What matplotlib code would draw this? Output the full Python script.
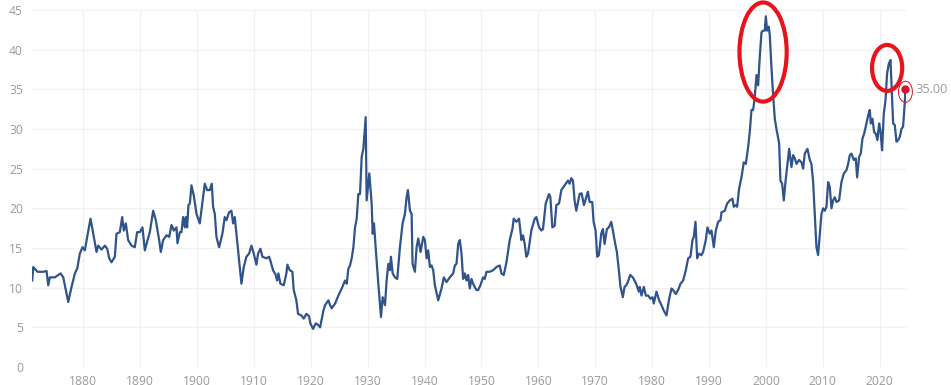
import matplotlib
matplotlib.use("Agg")
import matplotlib.pyplot as plt
from matplotlib.patches import Ellipse

years = [1871.04, 1871.22, 1871.98, 1872.97, 1873.56, 1873.85, 1874.15, 1875.02, 1876.02, 1876.49,
         1877.37, 1877.95, 1878.54, 1878.95, 1879.41, 1879.88, 1880.29, 1880.70, 1881.29, 1881.76,
         1882.34, 1882.63, 1883.22, 1883.81, 1884.22, 1884.57, 1884.98, 1885.56, 1885.85, 1886.44,
         1886.85, 1887.14, 1887.49, 1887.90, 1888.49, 1889.07, 1889.48, 1889.95, 1890.42, 1890.83,
         1891.24, 1891.71, 1892.30, 1892.76, 1893.35, 1893.64, 1894.05, 1894.64, 1895.11, 1895.52,
         1895.93, 1896.39, 1896.57, 1896.98, 1897.27, 1897.56, 1897.86, 1898.03, 1898.27, 1898.50,
         1898.74, 1899.03, 1899.44, 1899.91, 1900.49, 1900.96, 1901.37, 1901.78, 1902.25, 1902.60,
         1902.83, 1903.13, 1903.42, 1903.89, 1904.47, 1904.88, 1905.18, 1905.64, 1906.05, 1906.35,
         1906.64, 1907.05, 1907.40, 1907.81, 1908.22, 1908.69, 1909.16, 1909.57, 1909.98, 1910.44,
         1910.74, 1911.15, 1911.50, 1912.20, 1912.67, 1912.90, 1913.37, 1913.84, 1914.08, 1914.31,
         1914.66, 1915.25, 1915.71, 1915.89, 1916.30, 1916.77, 1917.00, 1917.47, 1917.76, 1918.35,
         1918.76, 1919.23, 1919.70, 1919.93, 1920.40, 1920.87, 1921.28,
         1921.64, 1922.22, 1922.51, 1923.10, 1923.39, 1923.68, 1924.27, 1924.85, 1925.44, 1926.02,
         1926.32, 1926.61, 1926.90, 1927.19, 1927.49, 1927.78, 1928.07, 1928.36, 1928.65, 1928.95,
         1929.24, 1929.65, 1929.82, 1930.29, 1930.70, 1930.88, 1931.11, 1931.40, 1931.87, 1932.34,
         1932.63, 1933.04, 1933.33, 1933.63, 1933.92, 1934.09, 1934.39, 1934.80, 1935.20, 1935.67,
         1936.14, 1936.55, 1936.84, 1937.08, 1937.43, 1937.72, 1937.89, 1938.30, 1938.60, 1938.89,
         1939.30, 1939.77, 1940.06, 1940.35, 1940.64, 1940.94, 1941.23, 1941.52, 1941.81, 1942.40,
         1942.98, 1943.39, 1943.86, 1944.44, 1945.03, 1945.32, 1945.61, 1945.91, 1946.20, 1946.49,
         1946.78, 1947.08, 1947.37, 1947.66, 1947.95, 1948.25, 1948.65, 1949.12, 1949.42, 1949.82,
         1950.29, 1950.58, 1950.88, 1951.46, 1952.05, 1952.63, 1953.22, 1953.51, 1953.92, 1954.39,
         1954.97, 1955.44, 1955.67, 1956.14, 1956.61, 1957.02, 1957.31, 1957.60, 1957.89, 1958.19,
         1958.77, 1959.36, 1959.65, 1960.12, 1960.53, 1960.82, 1961.29, 1961.87, 1962.11, 1962.46,
         1962.87, 1963.16, 1963.63, 1964.04, 1964.62, 1965.20, 1965.50, 1965.79, 1966.08, 1966.37,
         1966.67, 1967.25, 1967.60, 1968.01, 1968.42, 1968.71, 1969.01, 1969.47, 1969.71, 1970.06,
         1970.35, 1970.64, 1971.05, 1971.35, 1971.64, 1972.05, 1972.40, 1972.81, 1973.10, 1973.39,
         1973.80, 1974.15, 1974.44, 1974.85, 1975.15, 1975.44, 1975.73, 1976.14, 1976.61, 1977.19,
         1977.66,
         1977.83, 1978.13, 1978.54, 1978.89, 1979.30, 1979.71, 1980.06, 1980.29, 1980.76, 1981.23,
         1981.64, 1982.05, 1982.52, 1982.99, 1983.40, 1983.69, 1984.16, 1984.57, 1984.98, 1985.45,
         1985.92, 1986.33, 1986.74, 1987.09, 1987.32, 1987.62, 1987.91, 1988.26, 1988.67, 1988.96,
         1989.43, 1989.72, 1990.13, 1990.43, 1990.84, 1991.19, 1991.60, 1992.01, 1992.19, 1992.77,
         1993.18, 1993.65, 1994.12, 1994.35, 1994.70, 1994.94, 1995.29, 1995.70, 1996.11, 1996.46,
         1996.87, 1997.16, 1997.46, 1997.75, 1998.04, 1998.34, 1998.63, 1998.92, 1999.22, 1999.51,
         1999.80, 1999.98, 2000.21, 2000.50, 2000.68, 2000.97, 2001.27, 2001.56, 2001.85, 2002.32,
         2002.55, 2002.85, 2003.14, 2003.43, 2003.73, 2004.08, 2004.49, 2004.78, 2005.07, 2005.37,
         2005.83, 2006.25, 2006.54, 2006.83, 2007.30, 2007.71, 2008.00, 2008.30, 2008.59, 2008.88,
         2009.17, 2009.47, 2009.76, 2010.05, 2010.35, 2010.64, 2010.93, 2011.22, 2011.52, 2011.81,
         2012.10, 2012.40, 2012.86, 2013.27, 2013.69, 2014.15, 2014.45, 2014.74, 2015.03, 2015.44,
         2015.79, 2016.03, 2016.38, 2016.67, 2016.97, 2017.26, 2017.67, 2017.96, 2018.26, 2018.43,
         2018.72, 2019.02, 2019.31, 2019.60, 2019.90, 2020.13, 2020.42, 2020.71, 2021.01, 2021.30,
         2021.59, 2021.89, 2022.06, 2022.36, 2022.65, 2022.94, 2023.24, 2023.53, 2023.82, 2024.11,
         2024.41, 2024.52]

cape = [10.9, 12.6, 12.0, 12.0, 12.1, 10.3, 11.3, 11.3, 11.8, 11.3,
        8.2, 10.1, 11.8, 12.4, 14.3, 15.1, 14.7, 16.4, 18.7, 16.8,
        14.5, 15.3, 14.8, 15.3, 14.9, 13.7, 13.2, 13.9, 16.8, 17.0,
        18.9, 17.2, 18.1, 16.0, 15.3, 15.1, 17.0, 17.0, 17.6, 14.7,
        15.8, 17.0, 19.7, 18.5, 16.0, 14.5, 16.0, 16.6, 16.4, 17.9,
        17.2, 17.6, 15.6, 17.0, 17.0, 18.9, 17.6, 18.9, 17.6, 20.4,
        20.6, 22.9, 21.6, 19.3, 18.1, 20.8, 23.1, 22.3, 22.3, 23.1,
        20.2, 19.3, 16.4, 15.1, 16.8, 18.9, 18.5, 19.5, 19.7, 18.1,
        18.9, 16.0, 13.4, 10.5, 12.6, 13.9, 14.3, 15.3, 14.3, 12.9,
        14.3, 14.9, 13.9, 13.7, 13.9, 13.4, 12.2, 11.6, 10.9, 11.8,
        10.5, 10.3, 11.8, 12.9, 12.2, 12.0, 9.7, 8.4, 6.7, 6.5,
        6.1, 6.7, 6.4, 5.5, 4.8, 5.5, 5.3,
        5.0, 7.1, 7.8, 8.4, 7.8, 7.4, 8.0, 9.0, 9.9, 10.9,
        10.5, 12.4, 12.8, 13.7, 15.1, 17.6, 18.7, 21.8, 21.8, 26.5,
        27.5, 31.5, 21.0, 24.4, 20.6, 16.8, 18.1, 15.1, 10.5, 6.3,
        8.8, 7.8, 10.9, 13.0, 12.2, 13.9, 11.8, 11.3, 11.1, 15.1,
        18.1, 19.3, 21.4, 22.3, 19.7, 19.3, 13.0, 12.0, 15.1, 16.2,
        14.5, 16.4, 16.0, 13.7, 14.7, 12.6, 12.8, 12.2, 10.3, 8.4,
        9.9, 11.3, 10.7, 11.3, 11.8, 12.8, 13.0, 15.5, 16.0, 14.3,
        11.1, 11.8, 10.9, 11.6, 9.9, 11.1, 10.3, 9.7, 9.7, 10.3,
        11.3, 11.1, 12.0, 12.0, 12.2, 12.6, 12.8, 11.8, 11.6, 13.2,
        16.0, 17.4, 18.7, 18.3, 18.7, 16.0, 16.6, 15.5, 13.9, 14.3,
        17.2, 18.7, 18.9, 17.6, 17.2, 17.4, 20.6, 21.8, 21.4, 17.6,
        17.8, 20.4, 20.6, 22.3, 22.9, 23.5, 23.1, 23.8, 23.5, 21.0,
        19.7, 21.8, 21.9, 20.4, 21.4, 22.1, 20.8, 20.8, 18.3, 17.2,
        13.9, 14.1, 16.8, 17.4, 15.5, 17.4, 17.6, 18.3, 17.2, 16.0,
        14.5, 12.2, 10.1, 8.8, 10.1, 10.3, 10.7, 11.6, 11.3, 10.5,
        9.5,
        10.1, 9.0, 10.1, 9.0, 9.0, 8.6, 8.8, 8.0, 9.5, 8.4,
        7.8, 7.1, 6.5, 8.6, 9.9, 9.7, 9.2, 9.7, 10.5, 10.9,
        12.2, 13.7, 13.9, 16.0, 16.4, 18.3, 13.7, 14.3, 14.1, 14.5,
        16.0, 17.6, 16.8, 17.2, 15.1, 17.2, 18.3, 18.5, 19.5, 19.7,
        20.6, 21.0, 21.2, 20.2, 20.4, 20.2, 22.5, 23.9, 25.8, 25.6,
        27.7, 29.6, 32.4, 32.4, 34.0, 36.8, 35.5, 39.1, 42.2, 42.4,
        42.4, 44.2, 42.4, 42.9, 41.8, 37.8, 34.2, 31.3, 30.0, 28.2,
        23.5, 23.1, 21.0, 23.3, 25.2, 27.5, 25.2, 26.7, 26.3, 25.6,
        26.1, 25.8, 25.0, 26.9, 27.5, 26.1, 25.6, 23.3, 19.3, 15.1,
        14.1, 16.8, 19.3, 20.0, 19.7, 20.2, 23.3, 22.7, 20.0, 21.0,
        21.4, 20.8, 21.0, 23.3, 24.4, 24.8, 25.6, 26.7, 26.9, 26.1,
        26.3, 23.9, 26.5, 26.9, 28.8, 29.4, 30.7, 31.7, 32.4, 30.7,
        31.3, 29.6, 29.4, 28.6, 30.7, 29.8, 27.3, 31.9, 33.6, 37.0,
        38.2, 38.7, 35.7, 30.7, 30.5, 28.4, 28.6, 29.0, 30.0, 30.3,
        33.4, 35.0]

x_ticks = [1880, 1890, 1900, 1910, 1920, 1930, 1940, 1950, 1960, 1970, 1980, 1990, 2000, 2010, 2020]
y_ticks = [0, 5, 10, 15, 20, 25, 30, 35, 40, 45]

# highlighted regions (center year, center value, width years, height value)
highlights = [(1999.5, 39.7, 8.3, 12.5), (2021.3, 37.7, 5.3, 5.8)]

plt.rcParams['font.family'] = ['Open Sans', 'DejaVu Sans']

fig = plt.figure(figsize=(9.51, 3.85), dpi=100)
ax = fig.add_axes([32/951, 1 - 367/385, (906 - 32)/951, (367 - 10)/385])

ax.plot(years, cape, color='#30538a', lw=1.6, solid_joinstyle='round', zorder=3)

ax.set_xlim(1871.0, 2024.62)
ax.set_ylim(0, 45)
ax.set_xticks(x_ticks)
ax.set_yticks(y_ticks)
ax.grid(True, color='#f0f0f0', lw=0.9)
ax.set_axisbelow(True)
for s in ax.spines.values():
    s.set_visible(False)
ax.tick_params(axis='both', length=0, labelsize=8.7, labelcolor='#9a9a9a')
ax.tick_params(axis='y', pad=6.5)
ax.tick_params(axis='x', pad=5.5)

for cx, cy, w, h in highlights:
    ax.add_patch(Ellipse((cx, cy), w, h, fill=False, edgecolor='#e8141c', lw=3.0,
                         clip_on=False, zorder=4))

# last point
ax.plot([years[-1]], [cape[-1]], 'o', color='#e0102a', ms=5, clip_on=False, zorder=5)
ax.add_patch(Ellipse((years[-1], cape[-1] - 0.3), 2.45, 2.65, fill=False,
                     edgecolor='#e0102a', lw=0.7, clip_on=False, zorder=5))
ax.annotate(f"{cape[-1]:.2f}", (years[-1], cape[-1]), xytext=(7, 0),
            textcoords='offset points', ha='left', va='center',
            fontsize=9.2, color='#9a9a9a', annotation_clip=False)

fig.savefig('out.png', dpi=100)
